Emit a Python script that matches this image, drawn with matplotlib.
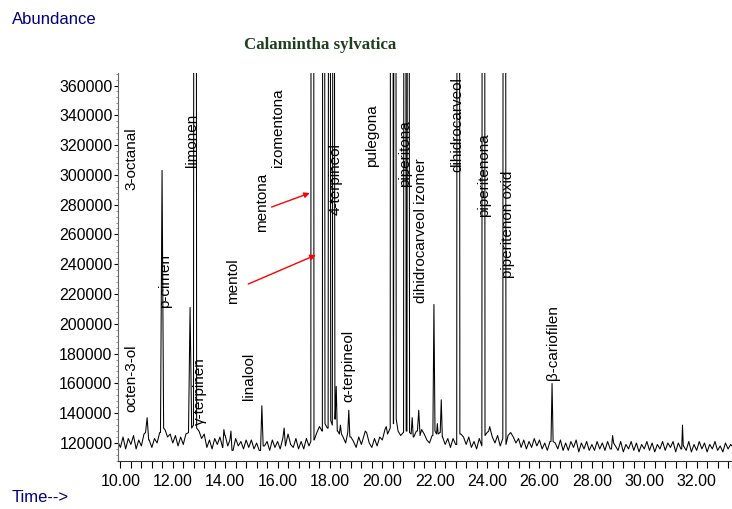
import numpy as np
import matplotlib
matplotlib.use('Agg')
import matplotlib.pyplot as plt
from matplotlib.ticker import MultipleLocator, FuncFormatter

plt.rcParams['font.family'] = ['Liberation Sans', 'DejaVu Sans']

# baseline of the trace, thousands of counts, one value every 0.1 min from 9.9
baseline_start = 9.9
baseline_k = [
    121,
    117, 124, 116, 123, 119, 125, 116, 122, 118, 126,  # 10.0
    127, 122, 117, 123, 120, 127, 130, 129, 124, 126,  # 11.0
    120, 125, 118, 124, 119, 126, 127, 130, 132, 130,  # 12.0
    128, 123, 126, 117, 122, 116, 123, 119, 124, 117,  # 13.0
    125, 118, 122, 115, 123, 118, 121, 116, 122, 117,  # 14.0
    122, 116, 120, 115, 124, 118, 121, 115, 122, 117,  # 15.0
    121, 116, 123, 118, 126, 119, 117, 123, 116, 121,  # 16.0
    116, 123, 118, 121, 122, 127, 131, 128, 133, 130,  # 17.0
    135, 132, 136, 128, 126, 124, 120, 127, 124, 121,  # 18.0
    117, 124, 119, 125, 127, 120, 117, 123, 118, 124,  # 19.0
    122, 129, 126, 130, 133, 136, 128, 125, 127, 128,  # 20.0
    127, 126, 124, 128, 125, 129, 126, 122, 120, 125,  # 21.0
    128, 126, 127, 124, 119, 123, 117, 123, 119, 124,  # 22.0
    126, 124, 119, 124, 117, 121, 116, 123, 118, 125,  # 23.0
    127, 128, 124, 120, 125, 118, 123, 119, 125, 127,  # 24.0
    124, 120, 123, 117, 122, 116, 121, 117, 123, 118,  # 25.0
    122, 116, 120, 115, 121, 121, 120, 116, 122, 115,  # 26.0
    120, 115, 121, 117, 122, 114, 120, 116, 121, 115,  # 27.0
    119, 115, 121, 116, 120, 115, 121, 116, 120, 118,  # 28.0
    115, 121, 114, 119, 116, 121, 115, 120, 114, 119,  # 29.0
    116, 121, 115, 120, 114, 119, 116, 121, 115, 120,  # 30.0
    117, 121, 114, 120, 116, 118, 115, 121, 114, 119,  # 31.0
    115, 121, 116, 120, 114, 119, 116, 121, 115, 118,  # 32.0
    114, 120, 116, 119, 117,                           # 33.0
]

# peaks: retention time (min), apex (thousands), half width (min)
peak_t = [11.02, 11.59, 12.66, 12.85, 13.95, 14.22, 15.40, 16.25,
          17.33, 17.76, 17.98, 18.14, 18.24, 18.40, 18.72, 19.35,
          20.15, 20.36, 20.48, 20.86, 20.99, 21.14, 21.39, 21.97,
          22.10, 22.25, 22.90, 23.86, 24.10, 24.66, 26.48, 28.79, 31.46]
peak_k = [137, 303, 211, 2000, 129, 128, 145, 130,
          2500, 1500, 1200, 900, 158, 132, 142, 128,
          131, 2200, 1800, 1500, 1300, 137, 142, 213,
          133, 149, 2000, 2000, 131, 2000, 160, 125, 132]
peak_w = [0.06, 0.06, 0.06, 0.06, 0.04, 0.04, 0.05, 0.05,
          0.06, 0.05, 0.05, 0.05, 0.04, 0.04, 0.04, 0.05,
          0.05, 0.06, 0.05, 0.05, 0.05, 0.04, 0.05, 0.04,
          0.03, 0.04, 0.06, 0.06, 0.04, 0.06, 0.04, 0.04, 0.03]

# compound labels: x (min), bottom of text (counts)
labels = ['3-octanal', 'octen-3-ol', 'p-cimen', 'limonen', 'γ-terpinen',
          'mentol', 'linalool', 'mentona', 'izomentona', '4-terpineol',
          'α-terpineol', 'pulegona', 'piperitona', 'dihidrocarveol izomer',
          'dihidrocarveol', 'piperitenona', 'piperitenon oxid', 'β-cariofilen']
label_t = [10.41, 10.41, 11.71, 12.74, 13.04, 14.31, 14.92, 15.40, 16.03,
           18.21, 18.72, 19.62, 20.88, 21.49, 22.87, 23.90, 24.78, 26.52]
label_y = [289800, 140800, 210600, 305500, 132000, 213300, 148900, 261800,
           305500, 273000, 147700, 305500, 292000, 214000, 302100, 271900,
           230700, 162300]

# red arrows (start -> end)
arrow_from = [(15.77, 278400), (14.88, 226700)]
arrow_to = [(17.23, 287800), (17.46, 246200)]

# build the trace: baseline points outside the peaks + triangle for each peak
grid_t = baseline_start + 0.1 * np.arange(len(baseline_k))
base = np.array(baseline_k) * 1000.0
pts = []
for t, y in zip(grid_t, base):
    if all(abs(t - pt) >= pw for pt, pw in zip(peak_t, peak_w)):
        pts.append((t, y))
for pt, pk, pw in zip(peak_t, peak_k, peak_w):
    lo = base[np.argmin(np.abs(grid_t - (pt - pw)))]
    hi = base[np.argmin(np.abs(grid_t - (pt + pw)))]
    pts += [(pt - pw, lo), (pt, pk * 1000.0), (pt + pw, hi)]
pts.sort()
trace_t = [p[0] for p in pts]
trace_y = [p[1] for p in pts]

fig = plt.figure(figsize=(7.32, 5.09), dpi=100)
ax = fig.add_axes([118 / 732, 48 / 509, 614 / 732, 388 / 509])
ax.plot(trace_t, trace_y, color='black', lw=0.75)

ax.set_xlim(9.908, 33.35)
ax.set_ylim(107900, 368400)

for s in ['top', 'right']:
    ax.spines[s].set_visible(False)
ax.spines['left'].set_color('#666666')
ax.spines['bottom'].set_color('#333333')

ax.set_xticks(np.arange(10, 33, 2))
ax.xaxis.set_major_formatter(FuncFormatter(lambda v, p: f'{v:.2f}'))
ax.xaxis.set_minor_locator(MultipleLocator(0.4))
ax.set_yticks(np.arange(120000, 360001, 20000))
ax.yaxis.set_major_formatter(FuncFormatter(lambda v, p: f'{int(v)}'))
ax.yaxis.set_minor_locator(MultipleLocator(4000))
ax.tick_params(axis='x', which='both', length=5, width=0.8, labelsize=11.5, pad=4)
ax.tick_params(axis='y', which='major', length=3, width=0.8, labelsize=11.5, pad=1)
ax.tick_params(axis='y', which='minor', length=1.5, width=0.6, color='#888888')

for txt, t, y in zip(labels, label_t, label_y):
    ax.text(t, y, txt, rotation=90, ha='center', va='bottom', fontsize=11)

for a, b in zip(arrow_from, arrow_to):
    ax.annotate('', xy=b, xytext=a,
                arrowprops=dict(arrowstyle='-|>', color='red', lw=1,
                                mutation_scale=8, shrinkA=0, shrinkB=0))

fig.text(12 / 732, 1 - 19 / 509, 'Abundance', color='#000080', fontsize=12, va='center')
fig.text(12 / 732, 1 - 497 / 509, 'Time-->', color='#000080', fontsize=12, va='center')
fig.text(320 / 732, 1 - 45 / 509, 'Calamintha sylvatica', color='#1f3f1f',
         fontsize=12.2, fontweight='bold', family=['Liberation Serif'],
         ha='center', va='center')

fig.savefig('out.png', dpi=100)
